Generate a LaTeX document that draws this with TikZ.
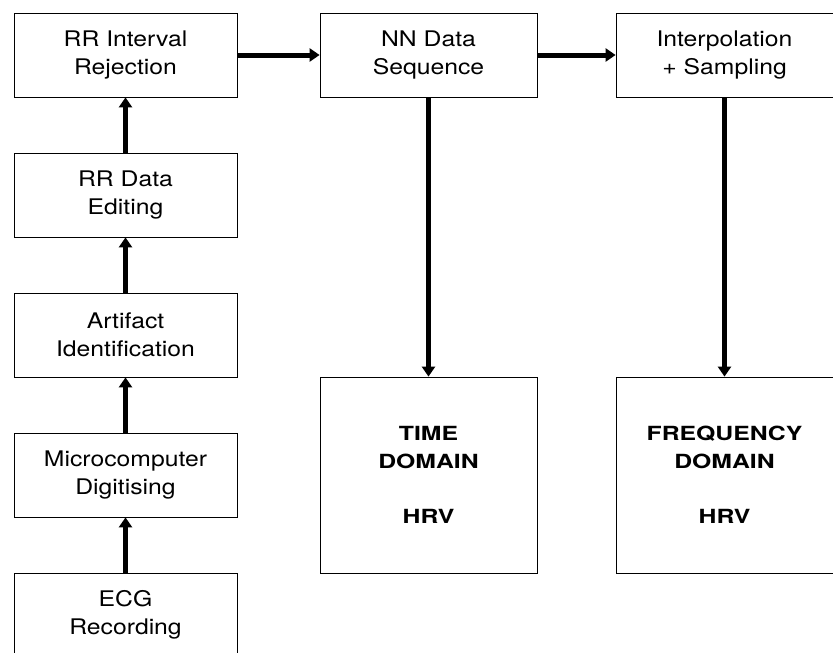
\documentclass[tikz,border=0pt]{standalone}
\usepackage{fontspec}
\setmainfont{TeX Gyre Heros}
\newfontfamily\boxfont[FakeStretch=1.15]{TeX Gyre Heros}
\newfontfamily\headfont[FakeStretch=1.27]{TeX Gyre Heros}
\usetikzlibrary{arrows.meta,positioning}

\tikzset{
	blk/.style={draw,line width=0.8pt,minimum width=223pt,minimum height=84pt,inner sep=0pt,align=center,font=\boxfont\fontsize{21.5}{28}\selectfont},
	bigblk/.style={blk,minimum width=217pt,minimum height=196pt,font=\headfont\bfseries\fontsize{19.5}{27.7}\selectfont},
	flow/.style={line width=5pt,-{Triangle[length=10pt,width=13pt]}}
}

\begin{document}
\begin{tikzpicture}[x=1pt,y=-1pt]
		\useasboundingbox (0,0) rectangle (833,653);
		% left column, bottom to top
		\node[blk] (ecg) at (125.5,615) {ECG\\Recording};
		\node[blk] (digit) at (125.5,475) {Microcomputer\\Digitising};
		\node[blk] (artif) at (125.5,335) {Artifact\\Identification};
		\node[blk] (edit) at (125.5,195) {RR Data\\Editing};
		\node[blk] (rej) at (125.5,55) {RR Interval\\Rejection};
		% top row
		\node[blk,minimum width=217pt] (nn) at (428.5,55) {NN Data\\Sequence};
		\node[blk,minimum width=217pt] (interp) at (724.5,55) {Interpolation\\+ Sampling};
		% results
		\node[bigblk] (timedom) at (428.5,475) {TIME\\DOMAIN\\[27.5pt]HRV};
		\node[bigblk] (freqdom) at (724.5,475) {FREQUENCY\\DOMAIN\\[27.5pt]HRV};
		\draw[flow] (ecg) -- (digit);
		\draw[flow] (digit) -- (artif);
		\draw[flow] (artif) -- (edit);
		\draw[flow] (edit) -- (rej);
		\draw[flow] (rej) -- (nn);
		\draw[flow] (nn) -- (interp);
		\draw[flow] (nn) -- (timedom);
		\draw[flow] (interp) -- (freqdom);
		\end{tikzpicture}
\end{document}
